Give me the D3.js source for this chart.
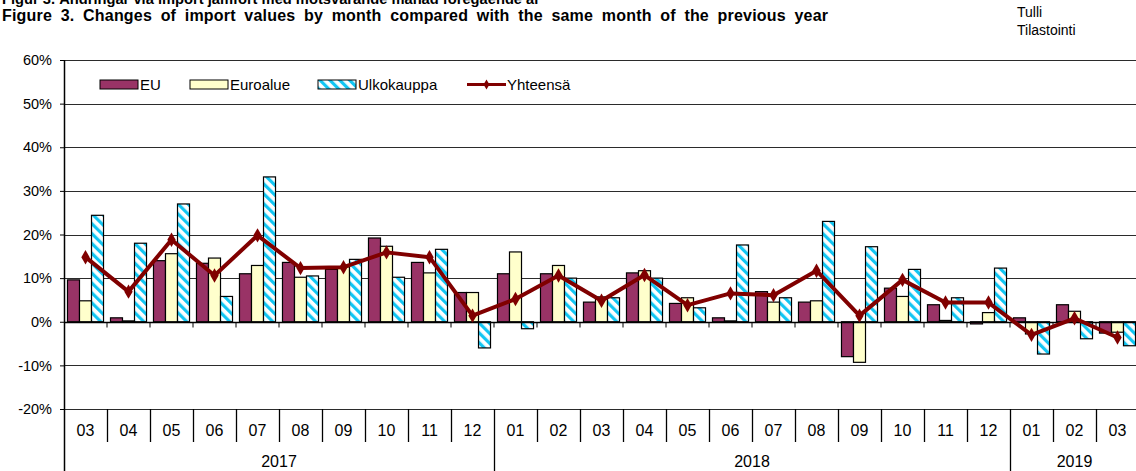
<!DOCTYPE html>
<html>
<head>
<meta charset="utf-8">
<script src="https://cdn.jsdelivr.net/npm/d3@7"></script>
<style>
  body { margin: 0; background: #fff; }
  svg { display: block; font-family: "Liberation Sans", Arial, sans-serif; }
</style>
</head>
<body>
<div id="chart"></div>
<script>
// months shown on the axis, and how many months fall in each year
var months = ["03","04","05","06","07","08","09","10","11","12",
              "01","02","03","04","05","06","07","08","09","10","11","12",
              "01","02","03"];
var years = ["2017","2018","2019"];
var yearMonths = [10, 12, 3];

var seriesNames = ["EU", "Euroalue", "Ulkokauppa"];
var lineName = "Yhteensä";

// % change vs same month previous year
var eu   = [9.6, 0.9, 14.0, 13.4, 11.0, 13.6, 12.0, 19.2, 13.6, 6.7,
            11.0, 11.0, 4.5, 11.2, 4.2, 0.9, 6.9, 4.5, -8.0, 7.7, 3.9, -0.5,
            0.9, 3.9, -2.6];
var euro = [4.8, 0.2, 15.6, 14.6, 12.9, 10.2, 12.6, 17.3, 11.2, 6.7,
            16.0, 12.9, 5.7, 11.7, 5.5, 0.2, 4.5, 4.8, -9.3, 5.8, 0.3, 2.1,
            -2.8, 2.4, -2.4];
var ulko = [24.4, 18.0, 27.0, 5.8, 33.2, 10.5, 14.3, 10.2, 16.6, -6.0,
            -1.6, 10.0, 5.5, 10.0, 3.2, 17.6, 5.5, 23.0, 17.2, 12.0, 5.5, 12.3,
            -7.4, -3.9, -5.5];
var total = [14.8, 6.9, 18.8, 10.6, 19.8, 12.3, 12.5, 15.9, 14.8, 1.4,
             5.2, 10.6, 4.8, 10.7, 3.8, 6.5, 6.1, 11.7, 1.4, 9.6, 4.4, 4.4,
             -3.0, 0.8, -3.6];

var yTicks = [-20, -10, 0, 10, 20, 30, 40, 50, 60];

(function () {
var W = 1136, H = 471;
var margin = { left: 64, right: 1139, top: 60, bottom: 409 };

var svg = d3.select("#chart").append("svg")
    .attr("width", W)
    .attr("height", H);

// diagonal stripe pattern for Ulkokauppa
var defs = svg.append("defs");
var pat = defs.append("pattern")
    .attr("id", "diag")
    .attr("patternUnits", "userSpaceOnUse")
    .attr("width", 7)
    .attr("height", 7)
    .attr("patternTransform", "rotate(-45)");
pat.append("rect").attr("width", 7).attr("height", 7).attr("fill", "#fff");
pat.append("rect").attr("width", 3.2).attr("height", 7).attr("fill", "#12c6f3");

var colors = { "EU": "#993366", "Euroalue": "#ffffcc", "Ulkokauppa": "url(#diag)" };
var lineColor = "#800000";

// titles
svg.append("text")
    .attr("x", 2).attr("y", 3.5)
    .style("font-size", "15px").style("font-weight", "bold")
    .attr("textLength", 538).attr("lengthAdjust", "spacingAndGlyphs")
    .text("Figur 3. Ändringar via import jämfört med motsvarande månad föregående år");
svg.append("text")
    .attr("x", 2).attr("y", 21)
    .style("font-size", "16px").style("font-weight", "bold")
    .style("word-spacing", "4px")
    .attr("textLength", 826).attr("lengthAdjust", "spacing")
    .text("Figure 3. Changes of import values by month compared with the same month of the previous year");
svg.append("text").attr("x", 1017).attr("y", 17).style("font-size", "14px").text("Tulli");
svg.append("text").attr("x", 1017).attr("y", 35).style("font-size", "14px").text("Tilastointi");

// scales
var x = d3.scaleBand().domain(d3.range(months.length)).range([margin.left, margin.right]);
var inner = d3.scaleBand().domain(seriesNames).range([0, x.bandwidth()]).paddingInner(0).paddingOuter(0.29);
var y = d3.scaleLinear().domain([-20, 60]).range([margin.bottom, margin.top]);

// gridlines
svg.append("g").selectAll("line").data(yTicks).enter().append("line")
    .attr("x1", margin.left).attr("x2", W)
    .attr("y1", d => Math.round(y(d)) + 0.5).attr("y2", d => Math.round(y(d)) + 0.5)
    .attr("stroke", "#2b2b2b")
    .attr("stroke-width", 1);

// bars
var data = months.map(function (m, i) {
    return { i: i, vals: [
        { name: "EU", v: eu[i] },
        { name: "Euroalue", v: euro[i] },
        { name: "Ulkokauppa", v: ulko[i] }
    ] };
});
var groups = svg.append("g").selectAll("g").data(data).enter().append("g")
    .attr("transform", d => "translate(" + x(d.i) + ",0)");
groups.selectAll("rect").data(d => d.vals).enter().append("rect")
    .attr("x", d => inner(d.name))
    .attr("width", inner.bandwidth())
    .attr("y", d => y(Math.max(0, d.v)))
    .attr("height", d => Math.abs(y(d.v) - y(0)))
    .attr("fill", d => colors[d.name])
    .attr("stroke", "#000")
    .attr("stroke-width", 1.2);

// zero line with category ticks
var y0 = Math.round(y(0)) + 0.5;
svg.append("line").attr("x1", margin.left).attr("x2", W).attr("y1", y0).attr("y2", y0)
    .attr("stroke", "#000").attr("stroke-width", 1.5);
svg.append("g").selectAll("line").data(d3.range(1, months.length)).enter().append("line")
    .attr("x1", d => x(d)).attr("x2", d => x(d))
    .attr("y1", y0).attr("y2", y0 + 5)
    .attr("stroke", "#000");

// total line
var cx = i => x(i) + x.bandwidth() / 2;
var lineGen = d3.line()
    .x((d, i) => cx(i))
    .y(d => y(d));
svg.append("path").datum(total)
    .attr("d", lineGen)
    .attr("fill", "none")
    .attr("stroke", lineColor)
    .attr("stroke-width", 4)
    .attr("stroke-linejoin", "round");
var diamond = d3.symbol().type(d3.symbolDiamond).size(60);
svg.append("g").selectAll("path").data(total).enter().append("path")
    .attr("d", diamond)
    .attr("transform", (d, i) => "translate(" + cx(i) + "," + y(d) + ")")
    .attr("fill", lineColor);

// y axis
var yAxis = d3.axisLeft(y).tickValues(yTicks).tickFormat(d => d + "%").tickSize(4).tickPadding(8);
var ya = svg.append("g")
    .attr("transform", "translate(" + margin.left + ",0)")
    .call(yAxis);
ya.select(".domain").remove();
ya.selectAll(".tick line").attr("stroke", "#000");
ya.selectAll("text").style("font-size", "14.5px").attr("fill", "#000");
svg.append("line").attr("x1", margin.left + 0.5).attr("x2", margin.left + 0.5)
    .attr("y1", margin.top).attr("y2", H).attr("stroke", "#000").attr("stroke-width", 1.5);

// month row
var yearStarts = [];
var acc = 0;
yearMonths.forEach(function (n) { yearStarts.push(acc); acc += n; });
svg.append("g").selectAll("line").data(d3.range(1, months.length)).enter().append("line")
    .attr("x1", d => Math.round(x(d)) + 0.5).attr("x2", d => Math.round(x(d)) + 0.5)
    .attr("y1", margin.bottom)
    .attr("y2", d => yearStarts.indexOf(d) >= 0 ? H : margin.bottom + 33)
    .attr("stroke", "#000").attr("stroke-width", 1.3);
svg.append("g").selectAll("text").data(months).enter().append("text")
    .attr("x", (d, i) => cx(i))
    .attr("y", margin.bottom + 27)
    .attr("text-anchor", "middle")
    .style("font-size", "16px")
    .text(d => d);
svg.append("g").selectAll("text").data(years).enter().append("text")
    .attr("x", (d, i) => (x(yearStarts[i]) + x(yearStarts[i] + yearMonths[i] - 1) + x.bandwidth()) / 2)
    .attr("y", margin.bottom + 58)
    .attr("text-anchor", "middle")
    .style("font-size", "16px")
    .text(d => d);

// legend
var legend = svg.append("g");
var legendX = [100, 190, 318];
seriesNames.forEach(function (s, i) {
    legend.append("rect")
        .attr("x", legendX[i]).attr("y", 80)
        .attr("width", 38).attr("height", 9)
        .attr("fill", colors[s]).attr("stroke", "#000").attr("stroke-width", 1);
    legend.append("text")
        .attr("x", legendX[i] + 40).attr("y", 90)
        .style("font-size", "15px")
        .text(s);
});
legend.append("line").attr("x1", 467).attr("x2", 506).attr("y1", 84.5).attr("y2", 84.5)
    .attr("stroke", lineColor).attr("stroke-width", 3);
legend.append("path").attr("d", d3.symbol().type(d3.symbolDiamond).size(30))
    .attr("transform", "translate(486.5,84.5)").attr("fill", lineColor);
legend.append("text").attr("x", 507).attr("y", 90)
    .style("font-size", "15px").text(lineName);
})();
</script>
</body>
</html>
